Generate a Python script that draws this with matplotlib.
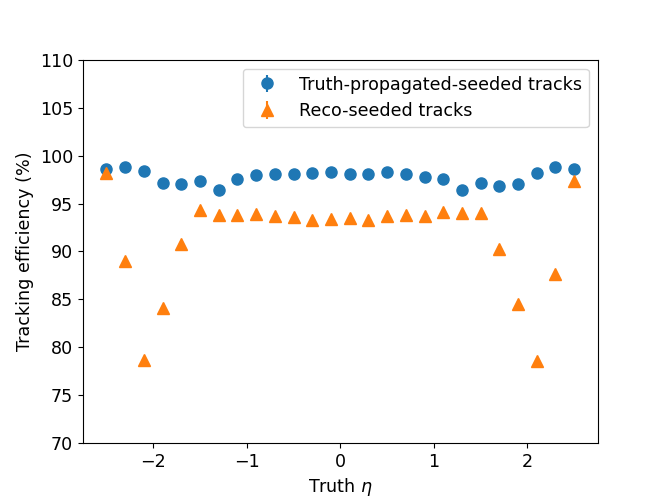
import numpy as np
import matplotlib
matplotlib.use('Agg')
import matplotlib.pyplot as plt

# --- data ---
eta = np.round(np.arange(-2.5, 2.51, 0.2), 1)

eff_truth = [98.65, 98.85, 98.37, 97.15, 97.05, 97.33, 96.4, 97.57, 97.95, 98.09,
             98.12, 98.23, 98.32, 98.09, 98.09, 98.26, 98.09, 97.74, 97.54, 96.4,
             97.15, 96.84, 97.08, 98.19, 98.79, 98.61]
eff_reco = [98.15, 89.0, 78.65, 84.1, 90.83, 94.38, 93.85, 93.8, 93.9, 93.7,
            93.58, 93.33, 93.4, 93.5, 93.33, 93.65, 93.8, 93.65, 94.1, 94.0,
            94.0, 90.24, 84.5, 78.6, 87.6, 97.36]
err_truth = [0.3] * len(eta)
err_reco = [0.3] * len(eta)

plt.rcParams['font.size'] = 12.6

fig = plt.figure(figsize=(6.64, 4.98), dpi=100)
plt.errorbar(eta, eff_truth, yerr=err_truth, fmt='o', markersize=8,
             label='Truth-propagated-seeded tracks')
plt.errorbar(eta, eff_reco, yerr=err_reco, fmt='^', markersize=8,
             label='Reco-seeded tracks')
plt.ylim(70, 110)
plt.xlabel(r'Truth $\eta$')
plt.ylabel('Tracking efficiency (%)')
plt.legend(loc='upper right')
plt.savefig('out.png', dpi=100)
plt.close()
